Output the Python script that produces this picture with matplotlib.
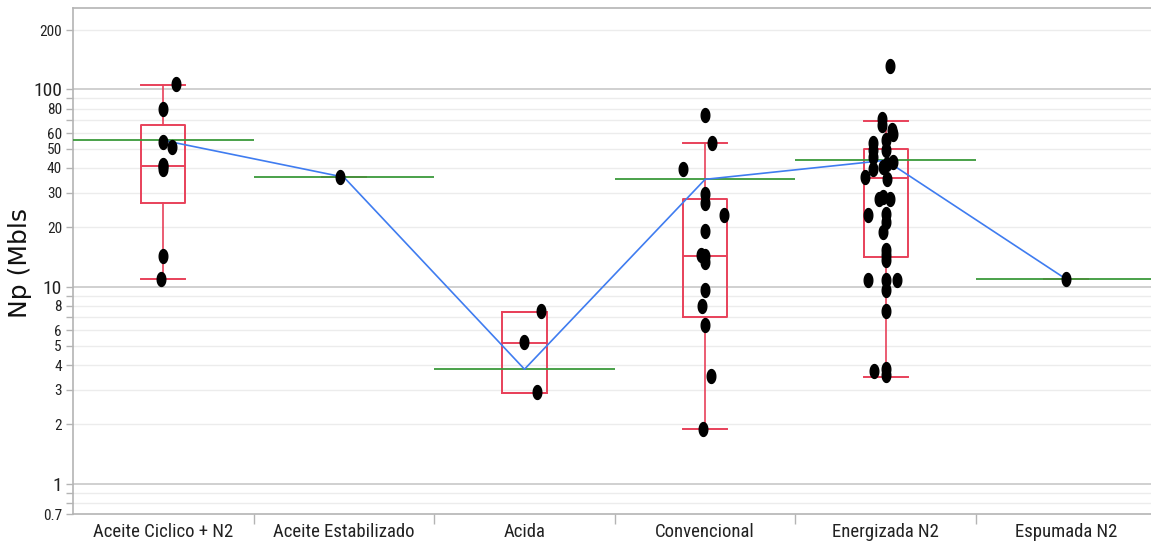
import matplotlib
matplotlib.use("Agg")
import matplotlib.pyplot as plt
from matplotlib import font_manager
from matplotlib.path import Path
import numpy as np

# ---------------- data ----------------
categories = ["Aceite Ciclico + N2", "Aceite Estabilizado", "Acida",
              "Convencional", "Energizada N2", "Espumada N2"]

vals_ciclico = [106, 80, 54, 51, 41.5, 41.0, 39.5, 14.3, 10.9]
jit_ciclico = [0.07, 0.0, 0.0, 0.05, 0.0, 0.0, 0.0, 0.0, -0.01]

vals_estab = [35.9]
jit_estab = [-0.02]

vals_acida = [7.5, 5.22, 2.92]
jit_acida = [0.09, 0.0, 0.07]

vals_conv = [74, 53.7, 39.4, 29.4, 26.7, 23.0, 19.2, 14.4, 14.3, 13.3,
             9.66, 8.0, 6.37, 3.51, 1.905]
jit_conv = [0.0, 0.036, -0.12, 0.0, 0.0, 0.105, 0.0, -0.025, 0.0, 0.0,
            0.0, -0.016, 0.0, 0.03, -0.01]

vals_energ = [131.5, 71, 65.8, 62, 59.7, 55.2, 53.5, 49.1, 49.1, 45.4,
              42.8, 42.0, 40.4, 39.7, 35.9, 35.3, 28.5, 27.9, 27.9, 23.0,
              23.4, 21.3, 18.9, 15.3, 14.5, 13.7, 10.8, 10.8, 10.8, 9.66,
              7.5, 3.73, 3.84, 3.55]
jit_energ = [0.023, -0.02, -0.02, 0.036, 0.042, 0.0, -0.072, -0.07, 0.0, -0.07,
             0.042, 0.005, -0.014, -0.07, -0.116, 0.005, -0.014, 0.023, -0.036, -0.097,
             0.0, 0.0, -0.014, 0.0, 0.0, 0.0, -0.097, 0.0, 0.062, 0.0,
             0.0, -0.064, 0.0, 0.0]

vals_espum = [10.9]
jit_espum = [0.0]

group_values = [vals_ciclico, vals_estab, vals_acida, vals_conv, vals_energ, vals_espum]
group_jitter = [jit_ciclico, jit_estab, jit_acida, jit_conv, jit_energ, jit_espum]

# box statistics
box_q1 = [26.5, 35.9, 2.9, 7.05, 14.2, 10.9]
box_med = [40.9, 35.9, 5.16, 14.25, 35.7, 10.9]
box_q3 = [66.4, 35.9, 7.4, 27.9, 49.9, 10.9]
box_wlo = [10.9, 35.9, 2.9, 1.905, 3.47, 10.9]
box_whi = [105, 35.9, 7.4, 53.4, 69.5, 10.9]

# green reference line per group (connected by blue line)
group_means = [55.2, 35.9, 3.81, 35.0, 43.7, 10.9]

major_ticks = [0.7, 1, 2, 3, 4, 5, 6, 8, 10, 20, 30, 40, 50, 60, 80, 100, 200]
major_labels = ["0.7", "1", "2", "3", "4", "5", "6", "8", "10", "20", "30",
                "40", "50", "60", "80", "100", "200"]
minor_ticks = [0.8, 0.9, 7, 9, 70, 90]
decades = [1, 10, 100]

y_title = "Np (Mbls"

# ---------------- fonts ----------------
avail = {f.name for f in font_manager.fontManager.ttflist}
cond = None
for name in ["Liberation Sans Narrow", "Roboto Condensed", "Open Sans Condensed",
             "DejaVu Sans Condensed", "Noto Sans Display"]:
    if name in avail:
        cond = name
        break
if cond is None:
    cond = "Liberation Sans"

# ---------------- figure ----------------
W, H = 1151, 544
fig = plt.figure(figsize=(W / 100, H / 100), dpi=100)
left_px, right_px, top_px, bot_px = 73, 1156.6, 8.3, 514.3
ax = fig.add_axes([left_px / W, 1 - bot_px / H, (right_px - left_px) / W,
                   (bot_px - top_px) / H])

ax.set_yscale("log")
ax.set_ylim(0.7, 258)
ax.set_xlim(-0.5, len(categories) - 0.5)

# grid lines
for t in major_ticks + minor_ticks:
    if t == 0.7:
        continue
    c = "#c8c8c8" if t in decades else "#ececec"
    lw = 1.2 if t in decades else 1.0
    ax.axhline(t, color=c, lw=lw, zorder=0)

# boxes
red = "#e8415a"
stats = []
for i in range(len(categories)):
    stats.append(dict(med=box_med[i], q1=box_q1[i], q3=box_q3[i],
                      whislo=box_wlo[i], whishi=box_whi[i], fliers=[]))
pos = np.arange(len(categories))
bw = 0.245
ax.bxp(stats, positions=pos, widths=bw, showfliers=False, manage_ticks=False,
       boxprops=dict(color=red, lw=1.4),
       whiskerprops=dict(color=red, lw=1.2),
       capprops=dict(color=red, lw=1.4),
       medianprops=dict(color=red, lw=1.4),
       capwidths=bw, zorder=2)

# green per-group lines
for i, m in enumerate(group_means):
    ax.hlines(m, i - 0.5, i + 0.5, color="#3a9a3a", lw=1.3, zorder=3)

# blue connecting line
ax.plot(pos, group_means, color="#3f7cf0", lw=1.2, zorder=3)

# points (vertical ellipses)
theta = np.linspace(0, 2 * np.pi, 40)
ell = Path(np.column_stack([0.62 * np.cos(theta), np.sin(theta)]), closed=True)
for i, (vals, jit) in enumerate(zip(group_values, group_jitter)):
    xs = [i + j for j in jit]
    ax.plot(xs, vals, linestyle="none", marker=ell, markersize=10,
            color="black", zorder=5, clip_on=False)

# axes styling
ax.spines["right"].set_visible(False)
for s in ["left", "bottom", "top"]:
    ax.spines[s].set_color("#b4b4b4")
    ax.spines[s].set_linewidth(1.2)

ax.yaxis.set_major_locator(matplotlib.ticker.FixedLocator(major_ticks))
ax.yaxis.set_minor_locator(matplotlib.ticker.FixedLocator(minor_ticks))
ax.yaxis.set_major_formatter(matplotlib.ticker.FixedFormatter(major_labels))
ax.yaxis.set_minor_formatter(matplotlib.ticker.NullFormatter())
ax.tick_params(axis="y", which="both", length=5, width=1, color="#b4b4b4",
               pad=3, labelcolor="#222222")
for lab, t in zip(ax.get_yticklabels(), major_ticks):
    lab.set_fontfamily(cond)
    lab.set_fontsize(14 if t in decades else 11)

ax.set_xticks(np.arange(0.5, len(categories) - 0.5, 1.0))
ax.set_xticklabels([])
ax.set_xticks(pos, minor=True)
ax.set_xticklabels(categories, minor=True, fontfamily=cond, fontsize=13.5,
                   color="#222222")
ax.tick_params(axis="x", which="major", length=7, width=1, color="#b4b4b4")
ax.tick_params(axis="x", which="minor", length=0, pad=6)

fig.text(20 / W, 1 - 263 / H, y_title, rotation=90, ha="center", va="center",
         fontsize=18, family="DejaVu Sans", color="#111111")

fig.savefig("out.png", dpi=100)
